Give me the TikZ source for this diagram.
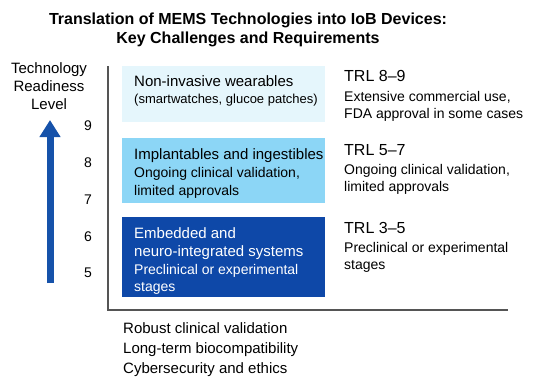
\documentclass[tikz,border=0pt]{standalone}
\usepackage{fontspec}
\setmainfont{Liberation Sans}
\usepackage{tikz}
\usetikzlibrary{arrows.meta}
\usepackage{xcolor}
\definecolor{trlpale}{RGB}{229,246,252}
\definecolor{trlsky}{RGB}{140,214,246}
\definecolor{trldeep}{RGB}{14,72,168}
\definecolor{trlarrow}{RGB}{22,82,170}
\definecolor{axisgray}{RGB}{85,85,85}

\begin{document}
\begin{tikzpicture}[x=1pt, y=-1pt,
  tier/.style ={anchor=north west, minimum width=203pt, inner sep=0pt},
  ttxt/.style ={anchor=west, inner sep=0pt, align=left,
                font=\fontsize{15}{18}\selectfont},
  note/.style ={anchor=north west, inner sep=0pt, align=left,
                font=\fontsize{14}{17}\selectfont},
  lvl/.style  ={inner sep=0pt, font=\fontsize{14}{17}\selectfont},
  axis/.style ={draw=axisgray, line width=1.2pt},
  up/.style   ={draw=trlarrow, line width=7pt,
                -{Triangle[width=20pt, length=17pt]}}
]
  \useasboundingbox (0,0) rectangle (550,384);

  %% ── Title ───────────────────────────────────────────────────────────────
  \node[anchor=north, inner sep=0pt, align=center,
        font=\fontsize{16}{19}\selectfont\bfseries] (title) at (248,13)
    {Translation of MEMS Technologies into IoB Devices:\\
     Key Challenges and Requirements};

  %% ── Left: readiness scale ───────────────────────────────────────────────
  \node[anchor=north, inner sep=0pt, align=center,
        font=\fontsize{15}{18}\selectfont] (trl) at (49,62)
    {Technology\\Readiness\\Level};
  \coordinate (arrbot) at (50,283);
  \coordinate (arrtop) at (50,120);
  \draw[up] (arrbot) -- (arrtop);

  \node[lvl] (l9) at (88,126) {9};
  \node[lvl] (l8) at (88,163) {8};
  \node[lvl] (l7) at (88,200) {7};
  \node[lvl] (l6) at (88,237) {6};
  \node[lvl] (l5) at (88,273) {5};

  %% ── Axes ────────────────────────────────────────────────────────────────
  \coordinate (axtop)   at (108,66);
  \coordinate (axorig)  at (108,310);
  \coordinate (axright) at (508,310);
  \draw[axis] (axtop) -- (axorig) -- (axright);

  %% ── Tiers (top to bottom) ───────────────────────────────────────────────
  \node[tier, fill=trlpale, minimum height=56pt] (wear) at (122,66) {};
  \node[tier, fill=trlsky,  minimum height=65pt] (impl) at (122,138) {};
  \node[tier, fill=trldeep, minimum height=80pt] (embd) at (122,217) {};

  \node[ttxt] (weartxt) at ([xshift=12pt, yshift=3.5pt]wear.west)
    {Non-invasive wearables\\[-1pt]
     {\fontsize{13}{17}\selectfont (smartwatches, glucoe patches)}};
  \node[ttxt] (impltxt) at ([xshift=12pt, yshift=-3pt]impl.west)
    {Implantables and ingestibles\\
     {\fontsize{14}{18}\selectfont Ongoing clinical validation,}\\
     {\fontsize{14}{18}\selectfont limited approvals}};
  \node[ttxt, text=white] (embdtxt) at ([xshift=12pt, yshift=-3.5pt]embd.west)
    {Embedded and\\
     neuro-integrated systems\\
     {\fontsize{14}{18}\selectfont Preclinical or experimental}\\[-1pt]
     {\fontsize{14}{18}\selectfont stages}};

  %% ── Right: TRL notes ────────────────────────────────────────────────────
  \node[note] (n89) at (344,70)
    {{\fontsize{16}{17}\selectfont TRL 8--9}\\[3pt]
     Extensive commercial use,\\
     FDA approval in some cases};
  \node[note] (n57) at (344,144)
    {{\fontsize{16}{17}\selectfont TRL 5--7}\\[2pt]
     Ongoing clinical validation,\\
     limited approvals};
  \node[note] (n35) at (344,222)
    {{\fontsize{16}{17}\selectfont TRL 3--5}\\[2pt]
     Preclinical or experimental\\
     stages};

  %% ── Bottom: requirements ────────────────────────────────────────────────
  \node[anchor=north west, inner sep=0pt, align=left,
        font=\fontsize{15}{20}\selectfont] (reqs) at (123,322)
    {Robust clinical validation\\
     Long-term biocompatibility\\
     Cybersecurity and ethics};

\end{tikzpicture}
\end{document}
